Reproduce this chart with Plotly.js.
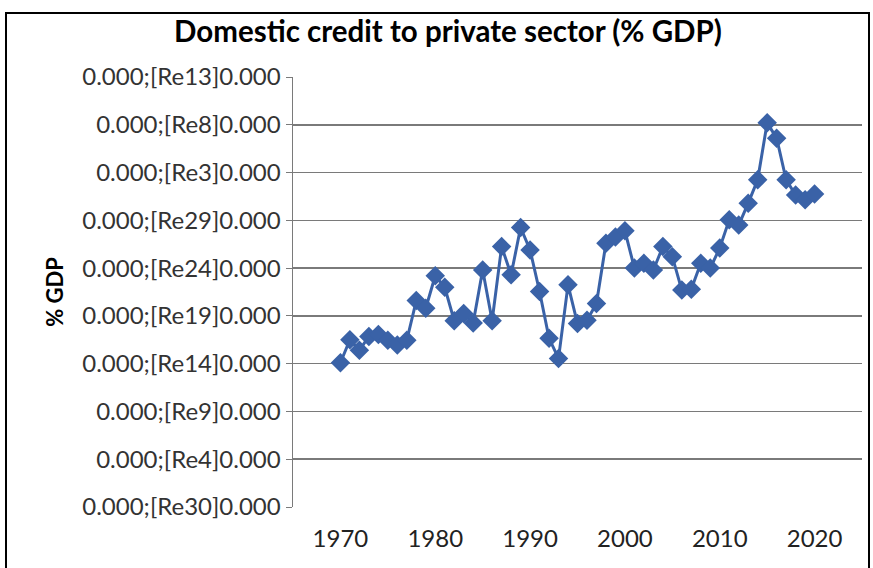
<!DOCTYPE html>
<html>
<head>
<meta charset="utf-8">
<script src="https://cdn.plot.ly/plotly-3.0.1.min.js"></script>
<style>
html,body{margin:0;padding:0;background:#fff;}
#chart{width:873px;height:568px;}
</style>
</head>
<body>
<div id="chart"></div>
<script>
const years = [1970,1971,1972,1973,1974,1975,1976,1977,1978,1979,1980,1981,1982,1983,1984,1985,1986,1987,1988,1989,1990,1991,1992,1993,1994,1995,1996,1997,1998,1999,2000,2001,2002,2003,2004,2005,2006,2007,2008,2009,2010,2011,2012,2013,2014,2015,2016,2017,2018,2019,2020];
const creditPctGdp = [30.2,35.0,32.8,35.7,36.1,34.9,33.9,34.9,43.2,41.6,48.4,46.0,39.0,40.5,38.5,49.6,39.0,54.5,48.6,58.5,53.8,45.1,35.3,31.1,46.5,38.4,39.1,42.6,55.2,56.5,57.8,50.0,51.0,49.6,54.5,52.4,45.4,45.6,51.0,50.0,54.2,60.1,59.0,63.6,68.5,80.4,77.2,68.5,65.3,64.3,65.5];
const yTickVals = [0,10,20,30,40,50,60,70,80,90];
const yTickText = ["0.000;[Re30]0.000","0.000;[Re4]0.000","0.000;[Re9]0.000","0.000;[Re14]0.000","0.000;[Re19]0.000","0.000;[Re24]0.000","0.000;[Re29]0.000","0.000;[Re3]0.000","0.000;[Re8]0.000","0.000;[Re13]0.000"];
const xTickVals = [1970,1980,1990,2000,2010,2020];
const titleText = "Domestic credit to private sector (% GDP)";
const yTitleText = "% GDP";

const blue = "#3a62a7";
const fontFam = "Lato, 'Open Sans', sans-serif";

const trace = {
  x: years, y: creditPctGdp, type: "scatter", mode: "lines+markers",
  line: {color: blue, width: 3},
  marker: {symbol: "diamond", size: 15, color: blue},
  cliponaxis: false, hoverinfo: "x+y"
};

const layout = {
  width: 873, height: 568,
  margin: {l: 293, r: 11, t: 77, b: 61},
  paper_bgcolor: "#fff", plot_bgcolor: "#fff",
  showlegend: false,
  title: {text: "<b>" + titleText + "</b>", font: {family: fontFam, size: 29.5, color: "#000"},
    x: 448/873, xref: "container", xanchor: "center", y: 1 - 32/568, yref: "container", yanchor: "middle"},
  xaxis: {range: [1965, 2025], tickvals: xTickVals, showgrid: false, zeroline: false, showline: false, ticks: "",
    tickfont: {family: fontFam, size: 24, color: "#222"}, ticklabelstandoff: 15, fixedrange: true},
  yaxis: {range: [0, 90], tickvals: yTickVals, ticktext: yTickText, showgrid: true, gridcolor: "#7a7a7a", gridwidth: 1.5,
    zeroline: false, showline: true, linecolor: "#7a7a7a", linewidth: 1.5, ticks: "outside", ticklen: 6, tickcolor: "#7a7a7a",
    tickfont: {family: fontFam, size: 24, color: "#333"}, ticklabelstandoff: 0,
    title: {text: "<b>" + yTitleText + "</b>", font: {family: fontFam, size: 22, color: "#000"}, standoff: 12}, fixedrange: true},
  shapes: [
    {type: "rect", xref: "paper", yref: "paper", x0: (6-293)/569, x1: (869-293)/569, y0: (507-580)/430, y1: (507-13)/430,
     line: {color: "#000", width: 2}, fillcolor: "rgba(0,0,0,0)", layer: "below"}
  ]
};

Plotly.newPlot("chart", [trace], layout, {displayModeBar: false, staticPlot: true});
</script>
</body>
</html>
